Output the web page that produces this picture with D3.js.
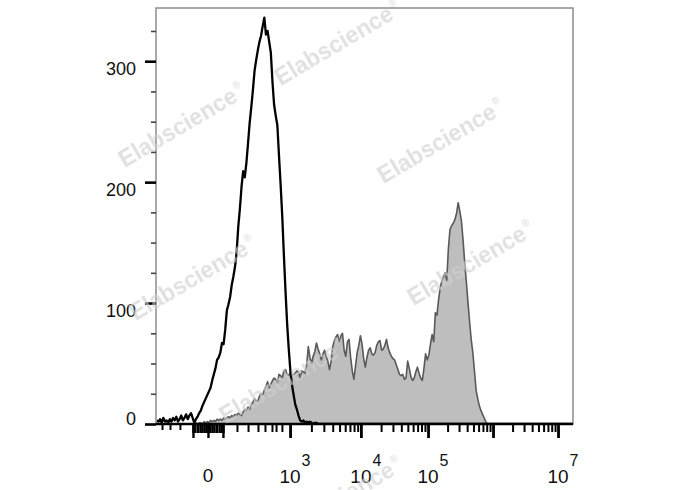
<!DOCTYPE html>
<html>
<head>
<meta charset="utf-8">
<script src="https://cdn.jsdelivr.net/npm/d3@7"></script>
<style>
  html, body { margin: 0; padding: 0; background: #fff; }
  svg { display: block; }
</style>
</head>
<body>
<svg id="chart" width="688" height="490"></svg>
<script>
// ---------------- DATA ----------------
// Histogram counts, one value per channel (256 channels across the axis)
const controlCounts = [
  3,2,4,1,5,2,3,1,4,2,
  5,3,6,2,4,7,3,5,8,4,
  7,9,5,1,4,6,9,11,15,18,
  21,24,27,30,36,41,46,53,55,59,
  67,66,78,94,99,105,115,122,130,142,
  163,178,196,209,204,216,232,249,262,276,
  292,301,309,316,321,329,336,322,325,316,
  307,283,264,255,247,222,198,172,140,110,
  83,62,44,32,24,16,12,7,3,2,
  3,1,2,1,2,1,0,1,1,0,
  0,0,0,0,0,0,0,0,0,0,
  0,0,0,0,0,0,0,0,0,0,
  0,0,0,0,0,0,0,0,0,0,
  0,0,0,0,0,0,0,0,0,0,
  0,0,0,0,0,0,0,0,0,0,
  0,0,0,0,0,0,0,0,0,0,
  0,0,0,0,0,0,0,0,0,0,
  0,0,0,0,0,0,0,0,0,0,
  0,0,0,0,0,0,0,0,0,0,
  0,0,0,0,0,0,0,0,0,0,
  0,0,0,0,0,0,0,0,0,0,
  0,0,0,0,0,0,0,0,0,0,
  0,0,0,0,0,0,0,0,0,0,
  0,0,0,0,0,0,0,0,0,0,
  0,0,0,0,0,0,0,0,0,0,
  0,0,0,0,0,0
];
const stainedCounts = [
  0,0,0,0,0,0,0,0,0,0,
  0,0,0,0,0,0,0,0,0,0,
  0,0,0,0,1,0,1,1,0,2,
  1,2,1,3,2,3,2,4,3,4,
  3,5,4,5,6,5,7,6,8,7,
  9,8,7,10,12,11,14,12,16,18,
  21,19,19,23,25,24,28,31,35,30,
  33,36,38,37,34,41,40,38,44,45,
  41,40,43,40,41,42,44,43,38,44,
  43,42,49,64,55,50,56,60,67,62,
  58,53,58,61,56,52,45,52,64,69,
  72,74,68,73,75,61,56,68,70,55,
  44,37,48,59,65,73,66,54,47,55,
  61,63,58,57,59,65,68,69,61,62,
  65,70,63,59,56,54,53,49,45,41,
  40,41,37,38,52,46,39,36,38,43,
  47,42,38,36,46,58,53,57,66,74,
  68,92,90,103,113,118,122,125,119,145,
  161,164,166,169,174,183,176,168,152,134,
  118,101,85,70,59,44,28,21,15,11,
  8,5,2,0,0,0,0,0,0,0,
  0,0,0,0,0,0,0,0,0,0,
  0,0,0,0,0,0,0,0,0,0,
  0,0,0,0,0,0,0,0,0,0,
  0,0,0,0,0,0,0,0,0,0,
  0,0,0,0,0,0
];

// Axis ticks (x in channel units)
const yMajorTicks = [0, 100, 200, 300];
const yMinorTicks = [25, 50, 75, 125, 150, 175, 225, 250, 275, 325];
const xZeroTick = 31.9;
const xZeroLabel = "0";
const xDecadeTicks = [82.3, 125.8, 167.0, 206.9, 246.8];
const xDecadeExponents = ["3", "4", "5", "", "7"];
const xNegativeMinorTicks = [3.7, 8.6, 14.7];
const xNearZeroTicks = [22.7, 23.9, 25.5, 27.0, 28.2, 29.5, 30.7, 31.9, 33.1, 34.4, 35.6, 37.1, 38.7, 39.9, 41.1];
const xLowMinorTicks = [49.7, 56.5, 62.6, 66.9, 71.2, 73.7, 77.3];
const decadeMultipliers = [2, 3, 4, 5, 6, 7, 8, 9];
const watermarkText = "Elabscience";

// ---------------- LAYOUT ----------------
const W = 688, H = 490;
const mLeft = 156, mRight = 573, mTop = 8, mBottom = 424;

const svg = d3.select("#chart");
svg.append("rect").attr("width", W).attr("height", H).attr("fill", "#fff");

const x = d3.scaleLinear().domain([0, 256]).range([mLeft, mRight]);
const y = d3.scaleLinear().domain([0, 344]).range([mBottom, mTop]);

svg.append("defs").append("clipPath").attr("id", "plotclip")
  .append("rect").attr("x", mLeft).attr("y", mTop).attr("width", mRight - mLeft).attr("height", mBottom - mTop + 1);

const plot = svg.append("g").attr("clip-path", "url(#plotclip)");

const area = d3.area()
  .x((d, i) => x(i + 0.5))
  .y0(y(0))
  .y1(d => y(d));
const line = d3.line()
  .x((d, i) => x(i + 0.5))
  .y(d => y(d));

plot.append("path").datum(stainedCounts)
  .attr("d", area)
  .attr("fill", "#bebebe");
plot.append("path").datum(stainedCounts)
  .attr("d", line)
  .attr("fill", "none")
  .attr("stroke", "#595959")
  .attr("stroke-width", 1.6)
  .attr("stroke-linejoin", "round");
plot.append("path").datum(controlCounts)
  .attr("d", line)
  .attr("fill", "none")
  .attr("stroke", "#000")
  .attr("stroke-width", 2.3)
  .attr("stroke-linejoin", "round");

// frame
svg.append("rect")
  .attr("x", mLeft).attr("y", mTop)
  .attr("width", mRight - mLeft).attr("height", mBottom - mTop)
  .attr("fill", "none").attr("stroke", "#8c8c8c").attr("stroke-width", 1.5);
svg.append("line")
  .attr("x1", mLeft).attr("x2", mRight).attr("y1", mBottom).attr("y2", mBottom)
  .attr("stroke", "#000").attr("stroke-width", 2.6);

// ---------------- Y AXIS ----------------
function styleAxis(g, color, width) {
  g.select(".domain").remove();
  g.selectAll(".tick line").attr("stroke", color).attr("stroke-width", width);
}
const yMinorAxis = svg.append("g").attr("transform", `translate(${mLeft},0)`)
  .call(d3.axisLeft(y).tickValues(yMinorTicks).tickSize(5).tickFormat(""));
styleAxis(yMinorAxis, "#444", 1.6);
const yMajorAxis = svg.append("g").attr("transform", `translate(${mLeft},0)`)
  .call(d3.axisLeft(y).tickValues(yMajorTicks).tickSize(11).tickFormat(""));
styleAxis(yMajorAxis, "#000", 2.6);

const font = "'Liberation Sans', Arial, sans-serif";
svg.append("g").selectAll("text").data(yMajorTicks).join("text")
  .attr("x", 136)
  .attr("y", d => y(d) + (d === 0 ? 0.5 : 13.5))
  .attr("text-anchor", "end")
  .attr("font-family", font)
  .attr("font-size", 18)
  .attr("fill", "#111")
  .text(d => d);

// ---------------- X AXIS ----------------
const decadeMinors = [];
for (let k = 0; k < xDecadeTicks.length - 1; k++) {
  const a = xDecadeTicks[k], b = xDecadeTicks[k + 1];
  decadeMinors.push(...decadeMultipliers.map(m => a + Math.log10(m) * (b - a)));
}
function xTicks(values, size, width) {
  const g = svg.append("g").attr("transform", `translate(0,${mBottom})`)
    .call(d3.axisBottom(x).tickValues(values).tickSize(size).tickFormat(""));
  styleAxis(g, "#000", width);
  return g;
}
xTicks(xNegativeMinorTicks, 6, 2);
xTicks(xNearZeroTicks, 9, 2.4);
xTicks([xNearZeroTicks[0], xZeroTick, xNearZeroTicks[xNearZeroTicks.length - 1]], 14, 2.4);
xTicks(xLowMinorTicks, 8, 2);
xTicks(decadeMinors, 8, 2);
xTicks(xDecadeTicks, 14, 2.8);

svg.append("text")
  .attr("x", x(xZeroTick)).attr("y", 482)
  .attr("text-anchor", "middle")
  .attr("font-family", font).attr("font-size", 19).attr("fill", "#111")
  .text(xZeroLabel);

const labelled = xDecadeTicks.map((t, i) => ({ t, e: xDecadeExponents[i] })).filter(d => d.e !== "");
const lab = svg.append("g").selectAll("g").data(labelled).join("g");
lab.append("text")
  .attr("x", d => x(d.t)).attr("y", 483)
  .attr("text-anchor", "middle")
  .attr("font-family", font).attr("font-size", 19).attr("fill", "#111")
  .text("10");
lab.append("text")
  .attr("x", d => x(d.t) + 11.5).attr("y", 466)
  .attr("text-anchor", "start")
  .attr("font-family", font).attr("font-size", 16).attr("fill", "#111")
  .text(d => d.e);

// ---------------- WATERMARK ----------------
const wmCenters = [[342, 50], [186, 132], [445, 148], [197, 285], [475, 270], [287, 388], [343, 506]];
const wm = svg.append("g").attr("opacity", 0.65);
wmCenters.forEach(([cx, cy]) => {
  const t = wm.append("text")
    .attr("transform", `translate(${cx},${cy}) rotate(-30.5)`)
    .attr("text-anchor", "middle")
    .attr("font-family", font)
    .attr("font-weight", "bold")
    .attr("font-size", 23)
    .attr("fill", "#d0d0d0");
  t.append("tspan").text(watermarkText);
  t.append("tspan").attr("font-size", 10).attr("dy", -11).attr("dx", 2).text("®");
});
</script>
</body>
</html>
